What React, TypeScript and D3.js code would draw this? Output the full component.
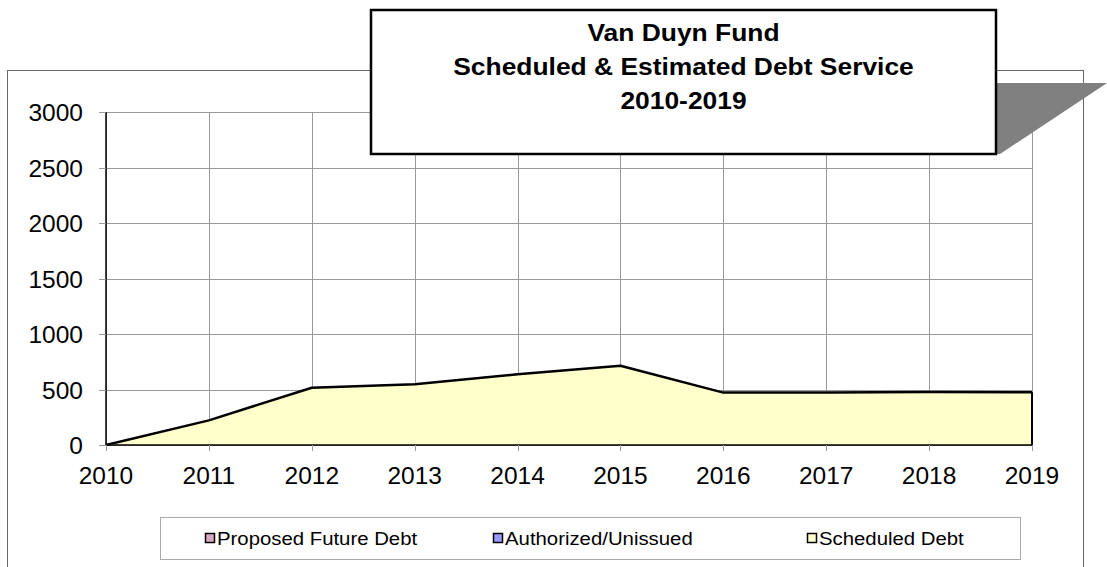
import { useMemo } from "react";
import * as d3 from "d3";

const years = [2010, 2011, 2012, 2013, 2014, 2015, 2016, 2017, 2018, 2019];
const scheduledDebt = [0, 222, 516, 547, 637, 714, 472, 472, 478, 475];
const authorizedUnissued = [0, 0, 0, 0, 0, 0, 0, 0, 0, 0];
const proposedFutureDebt = [0, 0, 0, 0, 0, 0, 0, 0, 0, 0];
const yTicks = [0, 500, 1000, 1500, 2000, 2500, 3000];
const titleLines = ["Van Duyn Fund", "Scheduled & Estimated Debt Service", "2010-2019"];
const legendItems = [
  { label: "Proposed Future Debt", color: "#D8A8C0", x: 205 },
  { label: "Authorized/Unissued", color: "#9999FF", x: 493 },
  { label: "Scheduled Debt", color: "#FFFFCC", x: 807 },
];

const FONT = "'Liberation Sans', Arial, sans-serif";

export default function App() {
  const width = 1107;
  const height = 567;
  const plot = { left: 106, right: 1032, top: 112, bottom: 445 };

  const x = d3.scalePoint<number>().domain(years).range([plot.left, plot.right]);
  const y = d3.scaleLinear().domain([0, 3000]).range([plot.bottom, plot.top]);

  // stacked series: scheduled at bottom, then authorized, then proposed
  const stacked = useMemo(() => {
    const rows = years.map((yr, i) => ({
      year: yr,
      scheduled: scheduledDebt[i],
      authorized: authorizedUnissued[i],
      proposed: proposedFutureDebt[i],
    }));
    return d3.stack<any>().keys(["scheduled", "authorized", "proposed"])(rows);
  }, []);

  const area = d3
    .area<any>()
    .x((d) => x(d.data.year)!)
    .y0((d) => y(d[0]))
    .y1((d) => y(d[1]));

  const topLine = d3
    .line<any>()
    .x((d) => x(d.data.year)!)
    .y((d) => y(d[1]));

  const fills = ["#FFFFCC", "#9999FF", "#E8C8D8"];
  const px = (v: number) => Math.round(v) + 0.5;

  return (
    <svg
      width={width}
      height={height}
      style={{ position: "absolute", left: 0, top: 0, background: "#fff" }}
      fontFamily={FONT}
    >
      {/* chart frame */}
      <rect x={7.5} y={70.5} width={1076} height={520} fill="#fff" stroke="#666" strokeWidth={1} />

      {/* gridlines */}
      {yTicks.map((t) => (
        <line key={"h" + t} x1={plot.left} x2={plot.right} y1={px(y(t))} y2={px(y(t))} stroke="#999" strokeWidth={1} />
      ))}
      {years.map((yr) => (
        <line key={"v" + yr} x1={px(x(yr)!)} x2={px(x(yr)!)} y1={plot.top} y2={plot.bottom} stroke="#999" strokeWidth={1} />
      ))}

      {/* areas */}
      {stacked.map((s, i) => (
        <path key={s.key} d={area(s) || ""} fill={fills[i]} stroke="none" />
      ))}
      {stacked
        .slice()
        .reverse()
        .map((s, i) => (
          <path key={"l" + s.key} d={topLine(s) || ""} fill="none" stroke={i === 2 ? "#000" : "#888"} strokeWidth={i === 2 ? 2.5 : 1} strokeLinejoin="round" />
        ))}
      <line x1={x(2019)!} x2={x(2019)!} y1={y(scheduledDebt[9])} y2={plot.bottom} stroke="#000" strokeWidth={2} />

      {/* axes */}
      <line x1={plot.left} x2={plot.left} y1={plot.top} y2={plot.bottom} stroke="#000" strokeWidth={1.5} />
      <line x1={plot.left} x2={plot.right} y1={plot.bottom} y2={plot.bottom} stroke="#000" strokeWidth={1.5} />
      {yTicks.map((t) => (
        <g key={"yt" + t}>
          <line x1={plot.left - 7} x2={plot.left} y1={px(y(t))} y2={px(y(t))} stroke="#999" />
          <text x={83} y={y(t) + 9} textAnchor="end" fontSize={24.5} fill="#000">
            {t}
          </text>
        </g>
      ))}
      {years.map((yr) => (
        <g key={"xt" + yr}>
          <line x1={px(x(yr)!)} x2={px(x(yr)!)} y1={plot.bottom} y2={plot.bottom + 6} stroke="#999" />
          <text x={x(yr)!} y={484} textAnchor="middle" fontSize={24.5} fill="#000">
            {yr}
          </text>
        </g>
      ))}

      {/* legend */}
      <rect x={160.5} y={517.5} width={860} height={42} fill="#fff" stroke="#aaa" strokeWidth={1} />
      {legendItems.map((it) => (
        <g key={it.label}>
          <rect x={it.x + 0.5} y={533.5} width={9} height={9} fill={it.color} stroke="#000" strokeWidth={1.5} />
          <g transform={`translate(${it.x + 12},545) scale(1.1,1)`}>
            <text x={0} y={0} fontSize={18.5} fill="#000">
              {it.label}
            </text>
          </g>
        </g>
      ))}

      {/* title box with shadow */}
      <polygon points="996,83 1107,83 1000,154 996,154" fill="#808080" />
      <rect x={371} y={10} width={625} height={144} fill="#fff" stroke="#000" strokeWidth={2.5} />
      {titleLines.map((l, i) => (
        <g key={l} transform={`translate(683.5,${41 + i * 34}) scale(1.1,1)`}>
          <text x={0} y={0} textAnchor="middle" fontSize={24} fontWeight="bold" fill="#000">
            {l}
          </text>
        </g>
      ))}
    </svg>
  );
}
